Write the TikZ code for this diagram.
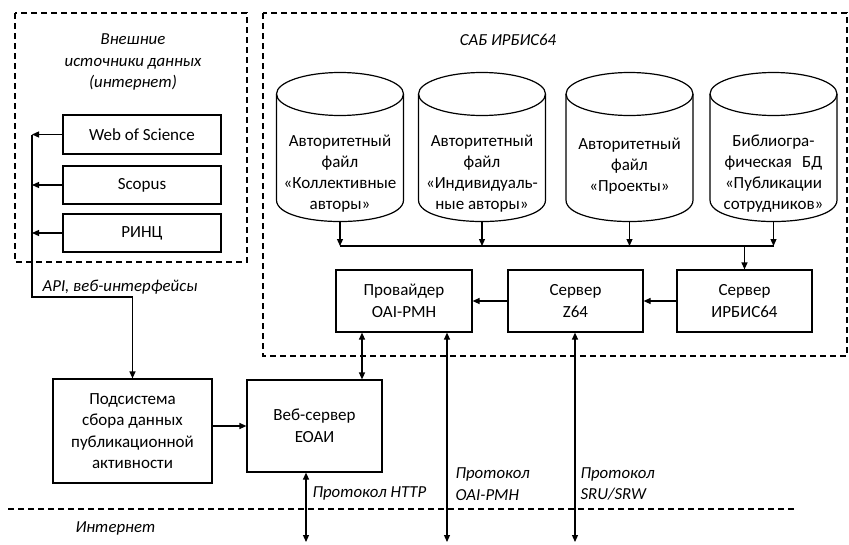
\documentclass[tikz,border=0pt]{standalone}
\usepackage{fontspec}
\setmainfont{Carlito}
\usetikzlibrary{arrows.meta}
\newcommand\dbcyl[4]{%
  \draw (#2,94) ellipse [x radius=63.5, y radius=21.5];
  \draw ({#2-63.5},94) -- ({#2-63.5},200) .. controls ({#2-63.5},228.7) and ({#2+63.5},228.7) .. ({#2+63.5},200) -- ({#2+63.5},94);
  \node[cyltxt] (#1) at (#2,#3) {#4};
  \coordinate (#1b) at (#2,221.5);
}
\begin{document}
\begin{tikzpicture}[x=1pt,y=-1pt,
  line width=1.2pt,
  arr/.style={-{Triangle[length=7pt,width=6pt]}},
  darr/.style={{Triangle[length=7pt,width=6pt]}-{Triangle[length=7pt,width=6pt]}},
  frame/.style={dash pattern=on 6pt off 4pt, line width=1.1pt},
  box/.style={draw, rectangle, inner sep=0pt, align=center, font=\fontsize{17}{21.5}\selectfont},
  lbl/.style={font=\fontsize{16.8}{21.5}\selectfont\itshape, inner sep=0pt},
  cyltxt/.style={align=center, inner sep=0pt, font=\fontsize{17}{21}\selectfont}
]
\useasboundingbox (0,0) rectangle (849,544);

% frames
\draw[frame] (15,13) rectangle (247,262);
\draw[frame] (263,13) rectangle (847,356);
\draw[frame] (8,509) -- (795,509);

% labels
\node[lbl, align=center] (ext) at (133,62) {Внешние\\источники данных\\(интернет)};
\node[lbl] (sab) at (508,40) {САБ ИРБИС64};
\node[lbl, anchor=west] (apil) at (42,287) {API, веб-интерфейсы};
\node[lbl, anchor=west] (httpl) at (312,493) {Протокол HTTP};
\node[lbl, anchor=west, align=left] (oail) at (455,484) {Протокол\\OAI-PMH};
\node[lbl, anchor=west, align=left] (srul) at (580,484) {Протокол\\SRU/SRW};
\node[lbl, anchor=west] (inet) at (75,528) {Интернет};

% external sources
\node[box, minimum width=158pt, minimum height=39pt] (wos) at (142,134.5) {Web of Science};
\node[box, minimum width=158pt, minimum height=38pt] (scopus) at (142,185) {Scopus};
\node[box, minimum width=158pt, minimum height=38pt] (rinc) at (142,233) {РИНЦ};

% cylinders
\dbcyl{c1}{340}{173.5}{Авторитетный\\файл\\«Коллективные\\авторы»}
\dbcyl{c2}{482}{173.5}{Авторитетный\\файл\\«Индивидуаль-\\ные авторы»}
\dbcyl{c3}{629.5}{166.5}{Авторитетный\\файл\\«Проекты»}
\dbcyl{c4}{773.5}{173.5}{Библиогра-\\фическая\hspace{0.6em}БД\\«Публикации\\сотрудников»}

% servers
\node[box, minimum width=136pt, minimum height=62pt] (prov) at (404,301) {Провайдер\\OAI-PMH};
\node[box, minimum width=135pt, minimum height=62pt] (z64) at (575.5,301) {Сервер\\Z64};
\node[box, minimum width=135pt, minimum height=62pt] (irbis) at (744.5,301) {Сервер\\ИРБИС64};

% lower boxes
\node[box, minimum width=159pt, minimum height=104pt] (sub) at (132.5,431) {Подсистема\\сбора данных\\публикационной\\активности};
\node[box, minimum width=135pt, minimum height=92pt] (web) at (314.5,426) {Веб-сервер\\ЕОАИ};

% bus
\coordinate (bus) at (0,246);
\draw (c1b |- bus) -- (c4b |- bus);
\draw[arr] (c1b) -- (c1b |- bus);
\draw[arr] (c2b) -- (c2b |- bus);
\draw[arr] (c3b) -- (c3b |- bus);
\draw[arr] (c4b) -- (c4b |- bus);
\draw[arr] (irbis.north |- bus) -- (irbis.north);

% server chain
\draw[arr] (irbis.west) -- (z64.east);
\draw[arr] (z64.west) -- (prov.east);

% external sources to subsystem
\coordinate (api) at (32,297);
\draw[arr] (wos.west) -- (wos.west -| api);
\draw[arr] (scopus.west) -- (scopus.west -| api);
\draw[arr] (rinc.west) -- (rinc.west -| api);
\draw[arr] (wos.west -| api) -- (api) -| (sub.north);

\draw[arr] (sub.east |- web.west) -- (web.west);

% vertical connections
\coordinate (pw) at (362,0);
\draw[darr] (prov.south -| pw) -- (web.north -| pw);
\coordinate (oai) at (447,542);
\draw[darr] (prov.south -| oai) -- (oai);
\coordinate (sru) at (575,542);
\draw[darr] (z64.south -| sru) -- (sru);
\coordinate (http) at (306,542);
\draw[darr] (web.south -| http) -- (http);
\end{tikzpicture}
\end{document}
